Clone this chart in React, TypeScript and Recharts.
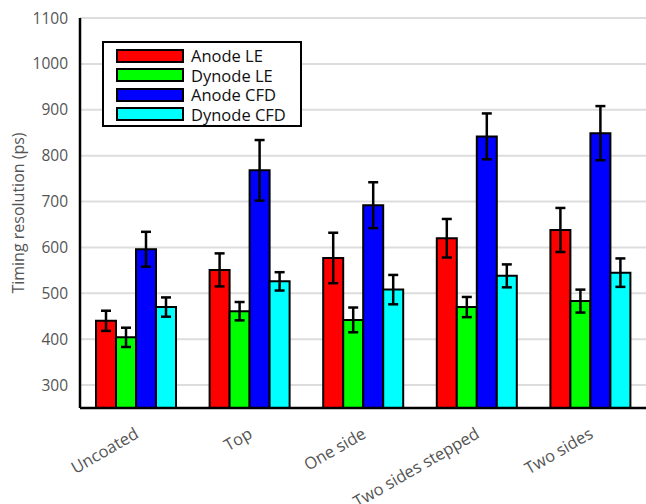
import React from 'react';
import {
  BarChart,
  Bar,
  XAxis,
  YAxis,
  CartesianGrid,
  ErrorBar,
  Legend,
  Label
} from 'recharts';

const categories = ['Uncoated', 'Top', 'One side', 'Two sides stepped', 'Two sides'];

const anodeLE = [440, 551, 577, 620, 638];
const anodeLEErr = [22, 36, 55, 42, 48];
const dynodeLE = [404, 461, 442, 470, 483];
const dynodeLEErr = [21, 20, 27, 22, 25];
const anodeCFD = [596, 768, 692, 842, 849];
const anodeCFDErr = [38, 66, 50, 50, 59];
const dynodeCFD = [470, 526, 508, 538, 545];
const dynodeCFDErr = [21, 20, 32, 25, 31];

const yTicks = [300, 400, 500, 600, 700, 800, 900, 1000, 1100];

const series = [
  { key: 'anodeLE', name: 'Anode LE', color: '#ff0000' },
  { key: 'dynodeLE', name: 'Dynode LE', color: '#00ff00' },
  { key: 'anodeCFD', name: 'Anode CFD', color: '#0000ff' },
  { key: 'dynodeCFD', name: 'Dynode CFD', color: '#00ffff' }
];

const data = categories.map((name, i) => ({
  name,
  anodeLE: anodeLE[i],
  anodeLEErr: anodeLEErr[i],
  dynodeLE: dynodeLE[i],
  dynodeLEErr: dynodeLEErr[i],
  anodeCFD: anodeCFD[i],
  anodeCFDErr: anodeCFDErr[i],
  dynodeCFD: dynodeCFD[i],
  dynodeCFDErr: dynodeCFDErr[i]
}));

const FONT = '"Open Sans", sans-serif';
const GREY = '#555555';

const XTick = (props: any) => {
  const { x, y, payload } = props;
  return (
    <g transform={`translate(${x + 3},${y + 27})`}>
      <text
        x={0}
        y={0}
        textAnchor="end"
        transform="rotate(-30)"
        fill={GREY}
        fontSize={16.5}
        fontFamily={FONT}
      >
        {payload.value}
      </text>
    </g>
  );
};

const LegendBox = () => (
  <div
    style={{
      width: 200,
      height: 86,
      boxSizing: 'border-box',
      border: '2px solid #000',
      background: '#fff',
      padding: '3px 0 0 12px',
      fontFamily: FONT,
      fontSize: 16.5,
      color: '#111'
    }}
  >
    {series.map((s) => (
      <div key={s.key} style={{ display: 'flex', alignItems: 'center', height: 19.5 }}>
        <div
          style={{
            width: 68,
            height: 14,
            boxSizing: 'border-box',
            border: '2px solid #000',
            background: s.color,
            marginRight: 7
          }}
        />
        <span style={{ lineHeight: '19px' }}>{s.name}</span>
      </div>
    ))}
  </div>
);

const App: React.FC = () => {
  return (
    <div
      style={{
        position: 'fixed',
        left: 0,
        top: 0,
        width: 646,
        height: 504,
        overflow: 'hidden',
        background: '#fff',
        fontFamily: FONT
      }}
    >
      <BarChart
        width={660}
        height={504}
        data={data}
        margin={{ top: 18, right: 12, bottom: 36, left: 20 }}
        barCategoryGap={16}
        barGap={0}
      >
        <CartesianGrid vertical={false} stroke="#dddddd" strokeWidth={2} />
        <XAxis
          dataKey="name"
          height={60}
          tickLine={false}
          tickSize={0}
          tick={<XTick />}
          interval={0}
          axisLine={{ stroke: '#000', strokeWidth: 2.5 }}
        />
        <XAxis
          xAxisId="top"
          dataKey="name"
          orientation="top"
          height={0}
          mirror
          tickSize={4}
          tickFormatter={() => ''}
          tickLine={{ stroke: '#000', strokeWidth: 1.5 }}
          axisLine={{ stroke: '#000', strokeWidth: 2.5 }}
        />
        <YAxis
          width={60}
          domain={[250, 1100]}
          ticks={yTicks}
          allowDataOverflow
          tickLine={false}
          tickSize={0}
          tickMargin={12}
          axisLine={{ stroke: '#000', strokeWidth: 2.5 }}
          tick={{ fill: GREY, fontSize: 15.5, fontFamily: FONT }}
        >
          <Label
            content={() => (
              <text
                x={18}
                y={213}
                transform="rotate(-90, 18, 213)"
                textAnchor="middle"
                dominantBaseline="central"
                fill={GREY}
                fontSize={16}
                fontFamily={FONT}
              >
                Timing resolution (ps)
              </text>
            )}
          />
        </YAxis>
        <Legend
          content={<LegendBox />}
          layout="horizontal"
          verticalAlign="middle"
          align="center"
          wrapperStyle={{ position: 'absolute', left: 102, top: 41, width: 200, height: 86 }}
        />
        {series.map((s) => (
          <Bar
            key={s.key}
            dataKey={s.key}
            name={s.name}
            fill={s.color}
            stroke="#000"
            strokeWidth={2}
            isAnimationActive={false}
          >
            <ErrorBar
              dataKey={`${s.key}Err`}
              width={5}
              stroke="#000"
              strokeWidth={2.5}
              direction="y"
            />
          </Bar>
        ))}
      </BarChart>
    </div>
  );
};

export default App;
